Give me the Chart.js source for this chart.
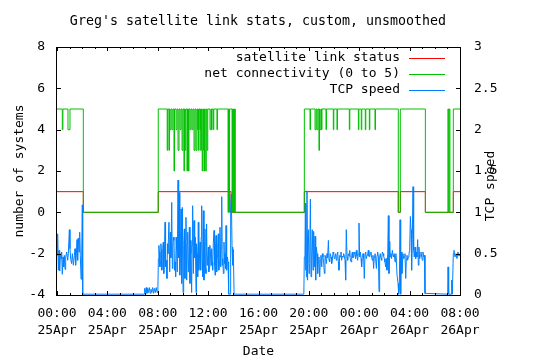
<!DOCTYPE html>
<html>
<head>
<meta charset="utf-8">
<title>Greg's satellite link stats</title>
<script src="https://cdn.jsdelivr.net/npm/chart.js@4.4.1/dist/chart.umd.min.js"></script>
<style>
    html, body { margin: 0; padding: 0; background: #ffffff; }
</style>
</head>
<body>
<canvas id="linkChart" width="540" height="360"></canvas>
<script>
// Titles and labels
const chartTitle = "Greg's satellite link stats, custom, unsmoothed";
const seriesLabels = ["satellite link status", "net connectivity (0 to 5)", "TCP speed"];
const timeLabels = ["00:00", "04:00", "08:00", "12:00", "16:00", "20:00", "00:00", "04:00", "08:00"];
const dayLabels = ["25Apr", "25Apr", "25Apr", "25Apr", "25Apr", "25Apr", "26Apr", "26Apr", "26Apr"];

// [hours since 00:00 25Apr, value]
const linkStatus = [
    [0, 1], [2.09, 0], [8.04, 1], [13.82, 0], [19.64, 1], [27.10, 0], [27.26, 1],
    [29.25, 0], [31.47, 1], [32, 1]
];

const connectivity = [
    [0, 5], [0.42, 4], [0.47, 5], [0.87, 4], [1.03, 5], [2.09, 0],
    [8.04, 5], [8.75, 3], [8.79, 5], [8.89, 3], [8.93, 5], [8.97, 4], [9.05, 5], [9.13, 4], [9.21, 5],
    [9.29, 2], [9.33, 5], [9.45, 4], [9.53, 5], [9.61, 3], [9.69, 5], [9.77, 4], [9.85, 5],
    [9.93, 3], [10.00, 5], [10.08, 2], [10.12, 5], [10.16, 3], [10.22, 5], [10.32, 2], [10.36, 5],
    [10.44, 2], [10.48, 5], [10.56, 4], [10.64, 5], [10.72, 4], [10.80, 5], [10.88, 3], [10.96, 5],
    [11.04, 3], [11.12, 5], [11.17, 4], [11.22, 5], [11.24, 3], [11.28, 5], [11.35, 4], [11.39, 5],
    [11.41, 3], [11.45, 5], [11.49, 3], [11.53, 2], [11.57, 5], [11.63, 3], [11.67, 2], [11.71, 5],
    [11.77, 3], [11.81, 2], [11.85, 5], [11.91, 3], [11.97, 5], [12.15, 4], [12.23, 5], [12.27, 4],
    [12.31, 5], [12.41, 4], [12.45, 5], [12.70, 4], [12.74, 5], [13.58, 0], [13.62, 5], [13.66, 0],
    [13.70, 5], [13.90, 0], [13.94, 5], [13.98, 0], [14.02, 5], [14.06, 0], [14.10, 5], [14.16, 0],
    [19.64, 5], [20.09, 4], [20.13, 5], [20.49, 4], [20.57, 5], [20.64, 4], [20.72, 5], [20.80, 3],
    [20.84, 5], [20.88, 4], [20.96, 5], [21.00, 4], [21.04, 5], [21.36, 4], [21.40, 5], [21.94, 4],
    [21.98, 5], [22.23, 4], [22.27, 5], [23.21, 4], [23.25, 5], [23.93, 4], [23.97, 5], [24.16, 4],
    [24.20, 5], [24.48, 4], [24.52, 5], [24.80, 4], [24.84, 5], [25.25, 4], [25.29, 5], [27.10, 0],
    [27.26, 5], [29.25, 0], [31.04, 5], [31.10, 0], [31.14, 5], [31.20, 0], [31.47, 5], [32, 5]
];

const tcpSpeed = [
    [0.00, 0.48], [0.05, 0.74], [0.11, 0.30], [0.16, 0.54], [0.21, 0.29], [0.27, 0.50], [0.32, 0.44],
    [0.37, 0.52], [0.42, 0.25], [0.48, 0.46], [0.53, 0.34], [0.58, 0.48], [0.64, 0.31], [0.69, 0.46],
    [0.77, 0.52], [0.85, 0.42], [0.90, 0.50], [0.98, 0.79], [1.03, 0.56], [1.09, 0.43], [1.16, 0.38],
    [1.22, 0.50], [1.30, 0.36], [1.38, 0.48], [1.43, 0.56], [1.48, 0.36], [1.54, 0.50], [1.59, 0.67],
    [1.64, 0.42], [1.69, 0.69], [1.75, 0.52], [1.80, 0.76], [1.85, 0.48], [1.91, 0.19], [1.96, 0.47],
    [2.01, 1.09], [2.04, 0.01],
    [6.93, 0.01], [6.96, 0.08], [7.02, 0.03], [7.08, 0.09], [7.14, 0.02], [7.20, 0.08], [7.27, 0.03],
    [7.33, 0.09], [7.40, 0.02], [7.46, 0.07], [7.53, 0.03], [7.60, 0.09], [7.67, 0.02], [7.74, 0.08],
    [7.81, 0.03], [7.88, 0.09], [7.95, 0.03], [8.01, 0.07],
    [8.05, 0.44], [8.09, 0.60], [8.13, 0.52], [8.17, 0.34], [8.21, 0.40], [8.25, 0.62], [8.28, 0.55],
    [8.32, 0.30], [8.36, 0.36], [8.40, 0.58], [8.44, 0.64], [8.48, 0.26], [8.52, 0.40], [8.58, 0.88],
    [8.62, 0.34], [8.66, 0.42], [8.73, 0.20], [8.77, 0.62], [8.81, 0.50], [8.89, 0.88], [8.95, 0.28],
    [9.00, 0.76], [9.05, 0.45], [9.11, 1.12], [9.16, 0.32], [9.20, 0.58], [9.24, 0.70], [9.29, 0.66],
    [9.33, 0.30], [9.37, 0.40], [9.42, 0.22], [9.46, 0.70], [9.50, 0.55], [9.55, 0.28], [9.61, 1.39],
    [9.66, 0.45], [9.71, 1.24], [9.75, 0.24], [9.79, 0.38], [9.85, 1.04], [9.90, 0.14], [9.95, 1.06],
    [10.01, 0.03], [10.06, 0.60], [10.11, 0.80], [10.16, 0.20], [10.20, 0.66], [10.24, 0.94],
    [10.30, 0.18], [10.34, 0.62], [10.38, 0.76], [10.42, 0.28], [10.46, 0.40], [10.51, 0.82],
    [10.56, 0.14], [10.60, 0.66], [10.64, 0.50], [10.69, 0.03], [10.73, 0.60], [10.77, 1.08],
    [10.83, 0.26], [10.88, 0.90], [10.93, 0.45], [10.98, 0.70], [11.04, 0.03], [11.08, 0.62],
    [11.12, 0.50], [11.17, 0.22], [11.22, 0.88], [11.26, 0.30], [11.30, 0.40], [11.36, 0.64],
    [11.41, 0.30], [11.45, 0.70], [11.49, 1.08], [11.54, 0.40], [11.58, 0.22], [11.62, 1.02],
    [11.67, 0.18], [11.71, 0.60], [11.75, 0.80], [11.79, 0.32], [11.83, 0.26], [11.88, 0.86],
    [11.92, 0.36], [11.96, 0.45], [12.02, 0.58], [12.06, 0.28], [12.10, 0.34], [12.14, 0.60],
    [12.18, 0.52], [12.23, 0.36], [12.28, 0.56], [12.32, 0.40], [12.36, 0.30], [12.41, 0.62],
    [12.47, 0.78], [12.51, 0.36], [12.55, 0.24], [12.59, 0.58], [12.63, 0.72], [12.68, 0.28],
    [12.72, 0.46], [12.76, 0.55], [12.81, 0.74], [12.85, 0.30], [12.89, 0.40], [12.94, 0.82],
    [13.00, 0.34], [13.04, 0.56], [13.08, 1.19], [13.12, 0.36], [13.16, 0.44], [13.21, 0.26],
    [13.26, 0.64], [13.30, 0.38], [13.34, 0.50], [13.38, 0.32], [13.42, 0.84], [13.47, 0.30],
    [13.53, 0.46], [13.58, 0.40], [13.63, 0.01], [13.74, 0.01], [13.79, 1.06], [13.84, 1.22],
    [13.90, 0.58], [13.95, 0.36], [14.00, 0.55], [14.06, 0.01],
    [19.60, 0.01], [19.64, 0.46], [19.69, 0.50], [19.72, 1.11], [19.75, 0.30], [19.77, 0.95],
    [19.80, 0.22], [19.85, 1.26], [19.88, 0.18], [19.90, 0.71], [19.96, 0.79], [20.01, 0.26],
    [20.06, 0.38], [20.12, 1.16], [20.17, 0.22], [20.22, 0.46], [20.27, 0.79], [20.33, 0.30],
    [20.38, 0.77], [20.43, 0.34], [20.49, 0.71], [20.54, 0.18], [20.59, 0.58], [20.65, 0.50],
    [20.70, 0.26], [20.75, 0.40], [20.80, 0.46], [20.86, 0.22], [20.91, 0.42], [20.96, 0.48],
    [21.02, 0.34], [21.07, 0.50], [21.12, 0.46], [21.17, 0.40], [21.23, 0.26], [21.28, 0.48],
    [21.33, 0.46], [21.39, 0.38], [21.44, 0.50], [21.49, 0.45], [21.55, 0.66], [21.60, 0.42],
    [21.65, 0.40], [21.70, 0.50], [21.76, 0.46], [21.81, 0.38], [21.86, 0.42], [21.92, 0.52],
    [21.97, 0.50], [22.02, 0.44], [22.07, 0.46], [22.13, 0.50], [22.18, 0.42], [22.23, 0.48],
    [22.29, 0.52], [22.34, 0.40], [22.39, 0.30], [22.45, 0.48], [22.50, 0.46], [22.55, 0.52],
    [22.60, 0.42], [22.66, 0.47], [22.71, 0.46], [22.76, 0.50], [22.82, 0.47], [22.87, 0.42],
    [22.92, 0.18], [22.97, 0.79], [23.03, 0.46], [23.08, 0.42], [23.13, 0.50], [23.19, 0.47],
    [23.24, 0.54], [23.29, 0.44], [23.35, 0.40], [23.40, 0.48], [23.45, 0.52], [23.50, 0.45],
    [23.56, 0.46], [23.61, 0.52], [23.66, 0.50], [23.71, 0.44], [23.77, 0.54], [23.82, 0.47],
    [23.87, 0.42], [23.93, 0.50], [23.98, 0.87], [24.03, 0.46], [24.09, 0.52], [24.14, 0.44],
    [24.19, 0.34], [24.25, 0.48], [24.30, 0.50], [24.35, 0.45], [24.40, 0.20], [24.46, 0.50],
    [24.51, 0.52], [24.56, 0.44], [24.62, 0.48], [24.67, 0.50], [24.72, 0.54], [24.77, 0.47],
    [24.83, 0.46], [24.88, 0.50], [24.93, 0.52], [24.99, 0.45], [25.04, 0.42], [25.09, 0.48],
    [25.14, 0.32], [25.20, 0.47], [25.25, 0.50], [25.30, 0.44], [25.36, 0.32], [25.41, 0.48],
    [25.46, 0.52], [25.52, 0.46], [25.57, 0.04], [25.62, 0.46], [25.67, 0.50], [25.73, 0.44],
    [25.78, 0.42], [25.83, 0.52], [25.89, 0.50], [25.94, 0.47], [25.99, 0.44], [26.04, 0.40],
    [26.10, 0.34], [26.15, 0.44], [26.20, 0.30], [26.26, 0.50], [26.31, 0.96], [26.36, 0.26],
    [26.42, 0.65], [26.47, 0.46], [26.52, 0.50], [26.57, 0.44], [26.63, 0.54], [26.68, 0.48],
    [26.73, 0.46], [26.78, 0.50], [26.84, 0.40], [26.89, 0.48], [26.92, 0.50], [27.00, 0.24],
    [27.08, 0.14], [27.13, 0.01], [27.18, 0.06], [27.24, 0.91], [27.29, 0.01], [27.34, 0.52],
    [27.39, 0.26], [27.47, 0.50], [27.53, 0.44], [27.58, 0.46], [27.63, 0.50], [27.69, 0.20],
    [27.74, 0.44], [27.79, 0.48], [27.84, 0.42], [27.90, 0.46], [27.95, 0.50], [28.00, 0.54],
    [28.06, 0.95], [28.11, 0.79], [28.16, 0.30], [28.21, 0.67], [28.27, 1.31], [28.32, 0.54],
    [28.37, 0.46], [28.43, 0.58], [28.48, 0.44], [28.53, 0.52], [28.58, 0.46], [28.64, 0.67],
    [28.69, 0.36], [28.74, 0.58], [28.80, 0.44], [28.85, 0.48], [28.90, 0.52], [28.96, 0.46],
    [29.01, 0.42], [29.06, 0.52], [29.11, 0.46], [29.17, 0.48], [29.22, 0.02],
    [31.02, 0.01], [31.05, 0.34], [31.10, 0.01], [31.30, 0.01], [31.34, 0.18], [31.39, 0.01],
    [31.47, 0.50], [31.52, 0.54], [31.60, 0.46], [31.68, 0.50], [31.76, 0.44], [31.84, 0.52],
    [31.92, 0.47], [32.00, 0.50]
];

const monoFont = "'DejaVu Sans Mono', 'Liberation Mono', monospace";

// turn [h, v] pairs into chart points
function toPoints(pairs) {
    return pairs.map(p => ({ x: p[0], y: p[1] }));
}

// Border box, inward tick marks, legend and the odd axis titles, gnuplot style
const gnuplotBits = {
    id: "gnuplotBits",
    afterDatasetsDraw(chart) {
        const { ctx, chartArea: a, scales } = chart;
        ctx.save();
        ctx.strokeStyle = "#000000";
        ctx.lineWidth = 1;
        ctx.beginPath();
        for (let h = 0; h <= 32; h++) {
            const px = Math.round(scales.x.getPixelForValue(h)) + 0.5;
            const len = h % 4 === 0 ? 4 : 2;
            ctx.moveTo(px, a.bottom);
            ctx.lineTo(px, a.bottom - len);
            ctx.moveTo(px, a.top);
            ctx.lineTo(px, a.top + len);
        }
        scales.y.ticks.forEach(t => {
            const py = Math.round(scales.y.getPixelForValue(t.value)) + 0.5;
            ctx.moveTo(a.left, py);
            ctx.lineTo(a.left + 4, py);
        });
        scales.y2.ticks.forEach(t => {
            const py = Math.round(scales.y2.getPixelForValue(t.value)) + 0.5;
            ctx.moveTo(a.right, py);
            ctx.lineTo(a.right - 4, py);
        });
        ctx.stroke();
        ctx.strokeRect(a.left - 0.5, a.top + 0.5, a.right - a.left + 1, a.bottom - a.top);

        // legend, top right inside the plot
        ctx.font = "13px " + monoFont;
        ctx.textAlign = "right";
        ctx.textBaseline = "middle";
        chart.data.datasets.forEach((ds, i) => {
            const y = 58 + i * 16;
            ctx.fillStyle = "#000000";
            ctx.fillText(ds.label, 400, y);
            ctx.strokeStyle = ds.borderColor;
            ctx.beginPath();
            ctx.moveTo(409, y + 0.5);
            ctx.lineTo(445, y + 0.5);
            ctx.stroke();
        });
        ctx.restore();
    },
    afterDraw(chart) {
        const { ctx } = chart;
        ctx.save();
        ctx.fillStyle = "#000000";
        ctx.font = "13.3px " + monoFont;
        ctx.textAlign = "center";
        ctx.textBaseline = "middle";
        ctx.fillText(chartTitle, 258, 22);
        // right axis title reads bottom to top
        ctx.font = "13px " + monoFont;
        ctx.translate(491, 186);
        ctx.rotate(-Math.PI / 2);
        ctx.fillText(seriesLabels[2], 0, 0);
        ctx.restore();
    }
};

const ctx = document.getElementById("linkChart").getContext("2d");

new Chart(ctx, {
    type: "line",
    data: {
        datasets: [
            {
                label: seriesLabels[0],
                data: toPoints(linkStatus),
                borderColor: "#ff0000",
                yAxisID: "y",
                stepped: true,
                order: 2,
            },
            {
                label: seriesLabels[1],
                data: toPoints(connectivity),
                borderColor: "#00c000",
                yAxisID: "y",
                stepped: true,
                order: 1,
            },
            {
                label: seriesLabels[2],
                data: toPoints(tcpSpeed),
                borderColor: "#0080ff",
                yAxisID: "y2",
                order: 0,
            },
        ],
    },
    options: {
        responsive: false,
        animation: false,
        layout: { padding: { top: 47, left: 0, right: 0, bottom: 0 } },
        elements: {
            line: { borderWidth: 1, tension: 0, fill: false },
            point: { radius: 0 },
        },
        plugins: {
            legend: { display: false },
            tooltip: { enabled: false },
            title: { display: false },
        },
        scales: {
            x: {
                type: "linear",
                min: 0,
                max: 32,
                grid: { display: false, drawTicks: false },
                border: { display: false },
                ticks: {
                    stepSize: 4,
                    autoSkip: false,
                    maxRotation: 0,
                    padding: 10,
                    color: "#000000",
                    font: { family: monoFont, size: 13, lineHeight: 1.3 },
                    callback: (value, index) => [timeLabels[index], dayLabels[index]],
                },
                title: {
                    display: true,
                    text: "Date",
                    color: "#000000",
                    font: { family: monoFont, size: 13 },
                    padding: { top: 4, bottom: 1 },
                },
                afterFit: scale => { scale.height = 65; },
            },
            y: {
                position: "left",
                min: -4,
                max: 8,
                grid: { display: false, drawTicks: false },
                border: { display: false },
                ticks: {
                    stepSize: 2,
                    padding: 12,
                    color: "#000000",
                    font: { family: monoFont, size: 13 },
                },
                title: {
                    display: true,
                    text: "number of systems",
                    color: "#000000",
                    font: { family: monoFont, size: 13 },
                    padding: { top: 12, bottom: 0 },
                },
                afterFit: scale => { scale.width = 57; },
            },
            y2: {
                position: "right",
                min: 0,
                max: 3,
                grid: { display: false, drawTicks: false },
                border: { display: false },
                ticks: {
                    stepSize: 0.5,
                    padding: 14,
                    color: "#000000",
                    font: { family: monoFont, size: 13 },
                    callback: value => String(value),
                },
                afterFit: scale => { scale.width = 80; },
            },
        },
    },
    plugins: [gnuplotBits],
});
</script>
</body>
</html>
